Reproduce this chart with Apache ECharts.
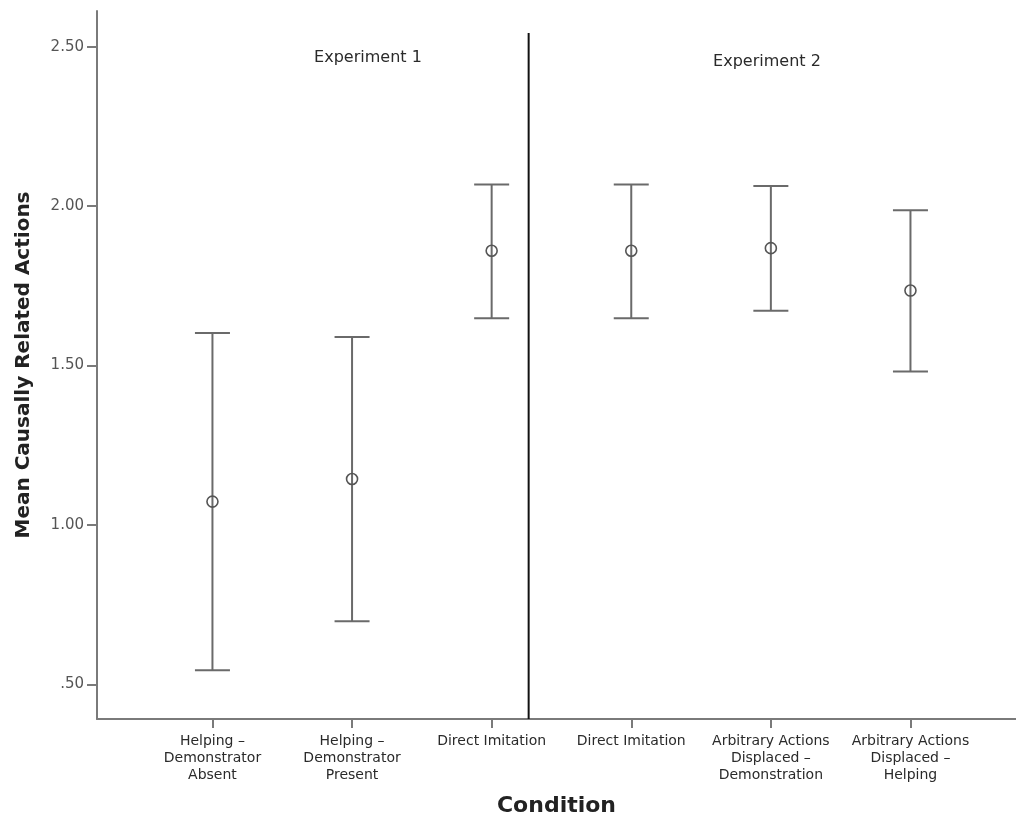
<!DOCTYPE html>
<html lang="en">
<head>
    <meta charset="utf-8">
    <title>Mean Causally Related Actions by Condition</title>
    <style>
        html, body { margin: 0; padding: 0; background: #fff; }
        #chart { width: 1016px; height: 823px; }
    </style>
</head>
<body>
    <div id="chart"></div>
    <script src="https://cdn.jsdelivr.net/npm/echarts@6/dist/echarts.min.js"></script>
    <script type="text/javascript">
        // conditions along the x axis (value axis, one unit per condition)
        var conditions = [
            "Helping –\nDemonstrator\nAbsent",
            "Helping –\nDemonstrator\nPresent",
            "Direct Imitation",
            "Direct Imitation",
            "Arbitrary Actions\nDisplaced –\nDemonstration",
            "Arbitrary Actions\nDisplaced –\nHelping"
        ];
        var positions = [1, 2, 3, 4, 5, 6];
        // means and error bar ends
        var means = [1.073, 1.144, 1.860, 1.860, 1.868, 1.735];
        var lower = [0.544, 0.698, 1.648, 1.648, 1.672, 1.481];
        var upper = [1.602, 1.589, 2.068, 2.068, 2.063, 1.987];
        var yTicks = [0.5, 1.0, 1.5, 2.0, 2.5];
        // experiment headings and the divider between them
        var experiments = ["Experiment 1", "Experiment 2"];
        var experimentX = [2.114, 4.972];
        var experimentY = [2.465, 2.451];
        var divider = [3.265, 2.543];

        var FONT = "DejaVu Sans";
        var xMin = 0.173, xMax = 6.756, yMin = 0.391, yMax = 2.612;

        var barData = positions.map(function (p, i) { return [p, lower[i], upper[i], means[i]]; });
        var labelData = experiments.map(function (name, i) { return { name: name, value: [experimentX[i], experimentY[i]] }; });

        //误差线
        function renderBar(params, api) {
            var x = api.value(0);
            var lo = api.coord([x, api.value(1)]);
            var hi = api.coord([x, api.value(2)]);
            var mid = api.coord([x, api.value(3)]);
            var cap = 17.5;
            var line = { stroke: "#6a6a6a", lineWidth: 2 };
            return {
                type: "group",
                children: [
                    { type: "line", shape: { x1: hi[0], y1: hi[1], x2: lo[0], y2: lo[1] }, style: line },
                    { type: "line", shape: { x1: hi[0] - cap, y1: hi[1], x2: hi[0] + cap, y2: hi[1] }, style: line },
                    { type: "line", shape: { x1: lo[0] - cap, y1: lo[1], x2: lo[0] + cap, y2: lo[1] }, style: line },
                    { type: "circle", shape: { cx: mid[0], cy: mid[1], r: 5.5 }, style: { stroke: "#555", lineWidth: 1.6, fill: "none" } }
                ]
            };
        }

        function renderDivider(params, api) {
            var top = api.coord([api.value(0), api.value(1)]);
            var bottom = api.coord([api.value(0), yMin]);
            return {
                type: "line",
                shape: { x1: top[0], y1: top[1], x2: bottom[0], y2: bottom[1] },
                style: { stroke: "#111", lineWidth: 2 }
            };
        }

        var option = {
            backgroundColor: "#fff",
            animation: false,
            textStyle: { fontFamily: FONT },
            grid: { left: 97, right: 0, top: 11, bottom: 104, containLabel: false },
            xAxis: {
                type: "value",
                min: xMin,
                max: xMax,
                name: "Condition",
                nameLocation: "middle",
                nameGap: 76,
                nameTextStyle: { fontFamily: FONT, fontSize: 22, fontWeight: "bold", color: "#222" },
                axisLine: { show: true, lineStyle: { color: "#7a7a7a", width: 2 } },
                axisTick: { show: true, length: 9, customValues: positions, lineStyle: { color: "#7a7a7a", width: 2 } },
                splitLine: { show: false },
                axisLabel: {
                    customValues: positions,
                    margin: 14,
                    fontFamily: FONT,
                    fontSize: 14,
                    lineHeight: 17,
                    color: "#2a2a2a",
                    align: "center",
                    formatter: function (v) { return conditions[Math.round(v) - 1]; }
                }
            },
            yAxis: {
                type: "value",
                min: yMin,
                max: yMax,
                name: "Mean Causally Related Actions",
                nameLocation: "middle",
                nameGap: 63,
                nameTextStyle: { fontFamily: FONT, fontSize: 20, fontWeight: "bold", color: "#222" },
                axisLine: { show: true, lineStyle: { color: "#7a7a7a", width: 2 } },
                axisTick: { show: true, length: 10, customValues: yTicks, lineStyle: { color: "#7a7a7a", width: 2 } },
                splitLine: { show: false },
                axisLabel: {
                    customValues: yTicks,
                    margin: 13,
                    fontFamily: FONT,
                    fontSize: 15,
                    color: "#555",
                    formatter: function (v) { return v.toFixed(2).replace(/^0/, ""); }
                }
            },
            series: [
                {
                    type: "custom",
                    renderItem: renderDivider,
                    data: [divider],
                    silent: true
                },
                {
                    type: "custom",
                    renderItem: renderBar,
                    data: barData,
                    silent: true
                },
                {
                    type: "scatter",
                    symbolSize: 0,
                    data: labelData,
                    silent: true,
                    itemStyle: { opacity: 1 },
                    label: {
                        show: true,
                        position: "inside",
                        formatter: "{b}",
                        fontFamily: FONT,
                        fontSize: 16,
                        color: "#2a2a2a",
                        opacity: 1
                    }
                }
            ]
        };

        var chart = echarts.init(document.getElementById("chart"));
        chart.setOption(option);
    </script>
</body>
</html>
